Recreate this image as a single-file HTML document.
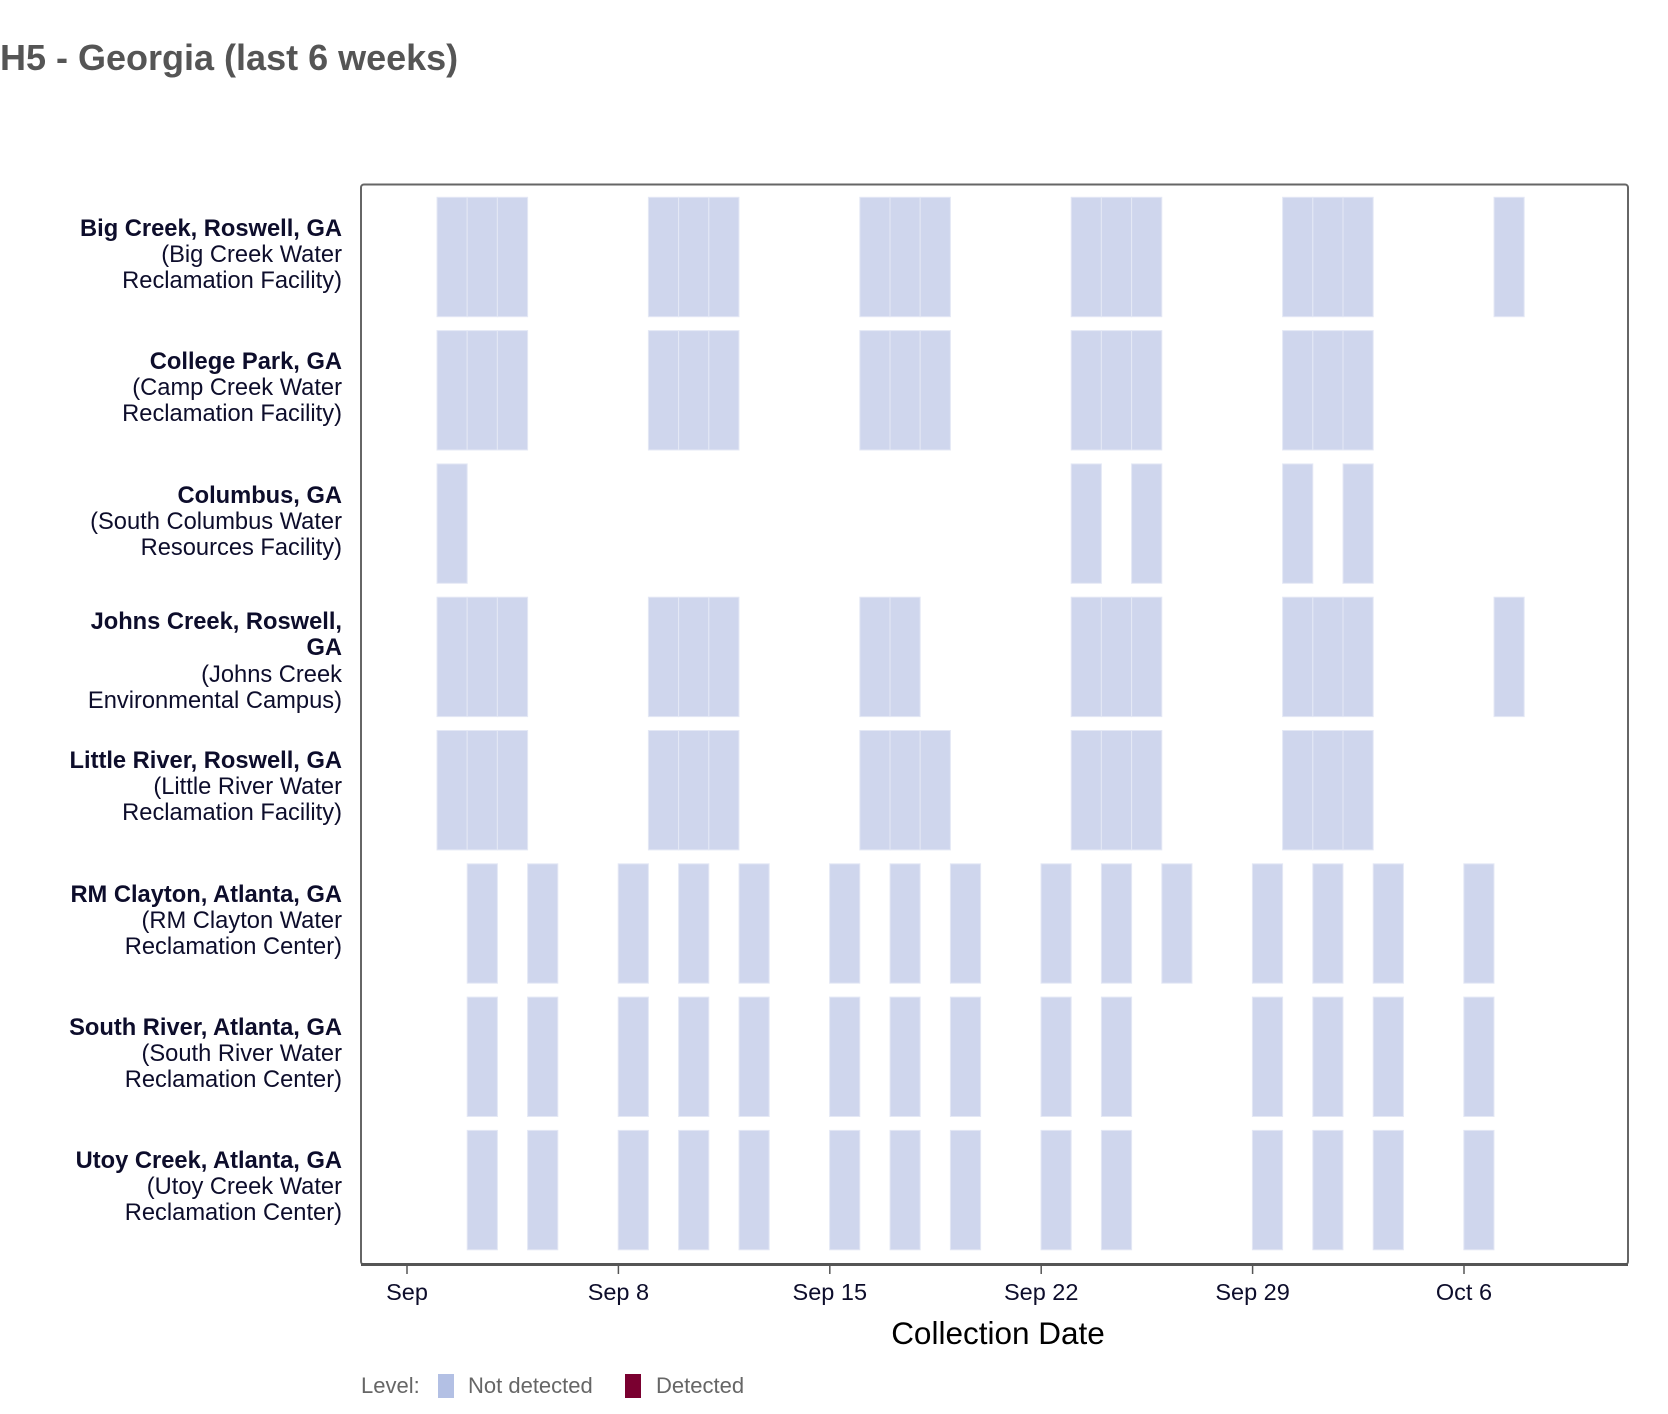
<!DOCTYPE html>
<html><head><meta charset="utf-8"><style>
html,body{margin:0;padding:0;background:#fff;}
svg{display:block;font-family:"Liberation Sans",Arial,sans-serif;}
</style></head><body>
<svg width="1668" height="1414" viewBox="0 0 1668 1414" xmlns="http://www.w3.org/2000/svg">
<text x="0" y="70" font-size="36" font-weight="bold" fill="#555">H5 - Georgia (last 6 weeks)</text>
<rect x="361" y="184.5" width="1267" height="1080" rx="3" fill="none" stroke="#666" stroke-width="2"/>
<line x1="361" y1="1264.5" x2="1628" y2="1264.5" stroke="#555" stroke-width="3"/>
<g id="bars" fill="#cfd6ed" stroke="#e4e8f5" stroke-width="1"></g>
<g font-size="23.7" fill="#0d0d2b" text-anchor="end">
<text x="342" y="236" font-weight="bold">Big Creek, Roswell, GA</text>
<text x="342" y="262">(Big Creek Water</text>
<text x="342" y="288">Reclamation Facility)</text>
<text x="342" y="369" font-weight="bold">College Park, GA</text>
<text x="342" y="395">(Camp Creek Water</text>
<text x="342" y="421">Reclamation Facility)</text>
<text x="342" y="503" font-weight="bold">Columbus, GA</text>
<text x="342" y="529">(South Columbus Water</text>
<text x="342" y="555">Resources Facility)</text>
<text x="342" y="629" font-weight="bold">Johns Creek, Roswell,</text>
<text x="342" y="655" font-weight="bold">GA</text>
<text x="342" y="682">(Johns Creek</text>
<text x="342" y="708">Environmental Campus)</text>
<text x="342" y="768" font-weight="bold">Little River, Roswell, GA</text>
<text x="342" y="794">(Little River Water</text>
<text x="342" y="820">Reclamation Facility)</text>
<text x="342" y="902" font-weight="bold">RM Clayton, Atlanta, GA</text>
<text x="342" y="928">(RM Clayton Water</text>
<text x="342" y="954">Reclamation Center)</text>
<text x="342" y="1035" font-weight="bold">South River, Atlanta, GA</text>
<text x="342" y="1061">(South River Water</text>
<text x="342" y="1087">Reclamation Center)</text>
<text x="342" y="1168" font-weight="bold">Utoy Creek, Atlanta, GA</text>
<text x="342" y="1194">(Utoy Creek Water</text>
<text x="342" y="1220">Reclamation Center)</text>
</g>
<g stroke="#555" stroke-width="1.5">
<line x1="407" y1="1265" x2="407" y2="1274"/><line x1="618.4" y1="1265" x2="618.4" y2="1274"/><line x1="829.8" y1="1265" x2="829.8" y2="1274"/><line x1="1041.2" y1="1265" x2="1041.2" y2="1274"/><line x1="1252.6" y1="1265" x2="1252.6" y2="1274"/><line x1="1464" y1="1265" x2="1464" y2="1274"/>
</g>
<g font-size="23.5" fill="#0d0d2b" text-anchor="middle">
<text x="407" y="1300">Sep</text><text x="618.4" y="1300">Sep 8</text><text x="829.8" y="1300">Sep 15</text><text x="1041.2" y="1300">Sep 22</text><text x="1252.6" y="1300">Sep 29</text><text x="1464" y="1300">Oct 6</text>
<text x="998" y="1344" font-size="31.5" fill="#000">Collection Date</text>
</g>
<g font-size="22" fill="#666">
<text x="361" y="1393">Level:</text>
<rect x="438" y="1374" width="16" height="24" fill="#b3c0e4"/>
<text x="468" y="1393">Not detected</text>
<rect x="625" y="1374" width="16" height="24" fill="#7a0030"/>
<text x="656" y="1393">Detected</text>
</g>
</svg>
<script>
var rows=[[1,2,3,8,9,10,15,16,17,22,23,24,29,30,31,36],[1,2,3,8,9,10,15,16,17,22,23,24,29,30,31],[1,22,24,29,31],[1,2,3,8,9,10,15,16,22,23,24,29,30,31,36],[1,2,3,8,9,10,15,16,17,22,23,24,29,30,31],[2,4,7,9,11,14,16,18,21,23,25,28,30,32,35],[2,4,7,9,11,14,16,18,21,23,28,30,32,35],[2,4,7,9,11,14,16,18,21,23,28,30,32,35]];
var g=document.getElementById('bars'),s='';
rows.forEach(function(r,i){r.forEach(function(k){s+='<rect x="'+(406.8+k*30.2).toFixed(1)+'" y="'+(197.3+i*133.3).toFixed(1)+'" width="30.2" height="119.4"/>';});});
g.innerHTML=s;
</script>
</body></html>
